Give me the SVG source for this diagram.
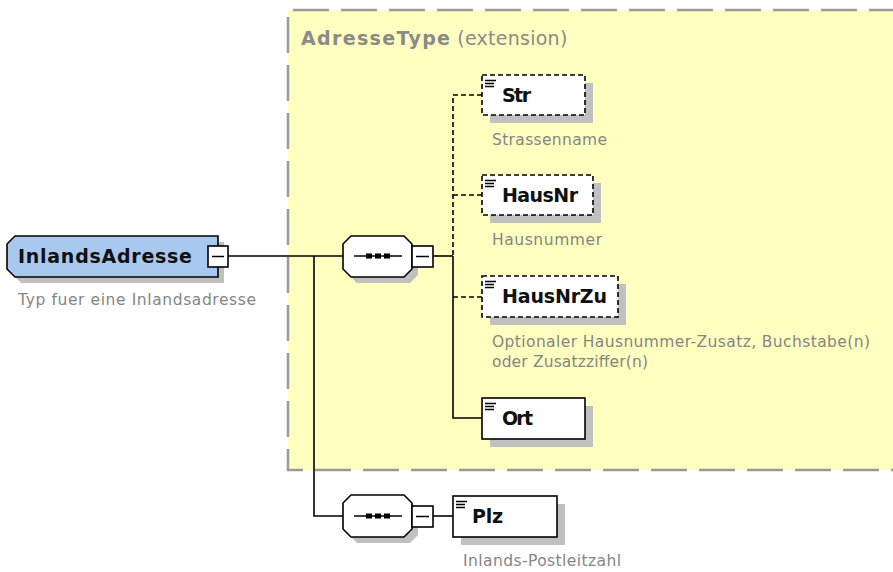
<svg xmlns="http://www.w3.org/2000/svg" width="893" height="572" viewBox="0 0 893 572">
<defs>
<style>
.shadow{fill:#c0c0c0;stroke:none}
.box{fill:#fff;stroke:#000;stroke-width:1.6}
.opt{stroke-dasharray:5 3}
.name{font-family:"DejaVu Sans",Verdana,sans-serif;font-weight:bold;font-size:19px;fill:#101010}
.desc{font-family:"DejaVu Sans",Verdana,sans-serif;font-size:15.5px;fill:#858585}
.title{font-family:"DejaVu Sans",Verdana,sans-serif;font-size:19px;fill:#8a8a8a}
.conn{fill:none;stroke:#000;stroke-width:1.6}
.dash{stroke-dasharray:5 3}
.icon{stroke:#000;stroke-width:1.3}
</style>
</defs>
<rect width="893" height="572" fill="#fff"/>
<g id="AdresseType">
<rect x="288" y="10" width="620" height="460" fill="#ffffc0"/>
<path d="M905 10 H288 V470 H905" fill="none" stroke="#9a9a9a" stroke-width="2.5" stroke-dasharray="36 12"/>
<text x="301" y="45" class="title"><tspan font-weight="bold" textLength="149">AdresseType</tspan><tspan dx="6" textLength="110">(extension)</tspan></text>
</g>
<g id="connectors">
<path class="conn" d="M228 256 H343"/>
<path class="conn" d="M314 256 V516 H343"/>
<path class="conn" d="M433 256 H453"/>
<path class="conn dash" d="M482 95 H453 V256"/>
<path class="conn dash" d="M453 195 H482"/>
<path class="conn dash" d="M453 297 H482"/>
<path class="conn" d="M453 256 V418 H482"/>
<path class="conn" d="M433 516 H453"/>
</g>
<g id="InlandsAdresse">
<path class="shadow" d="M21 242 H224 V283 H21 L13 275 V250 Z"/>
<path d="M15 236 H218 V277 H15 L7 269 V244 Z" fill="#a8c8f0" stroke="#000" stroke-width="1.6"/>
<text x="18" y="263" class="name" font-size="20" textLength="174">InlandsAdresse</text>
<rect x="208" y="246" width="20" height="21" class="box"/>
<path d="M212 256.5 H224" stroke="#000" stroke-width="1.5"/>
<text x="18" y="305" class="desc" textLength="238">Typ fuer eine Inlandsadresse</text>
</g>
<g id="sequence1">
<path class="shadow" d="M357 242 H410 L418 250 V275 L410 283 H357 L349 275 V250 Z"/>
<path d="M351 236 H404 L412 244 V269 L404 277 H351 L343 269 V244 Z" fill="#fff" stroke="#000" stroke-width="1.6"/>
<path d="M354 256 H402" stroke="#000" stroke-width="1.5"/>
<rect x="366" y="253.5" width="6" height="5" fill="#000"/>
<rect x="375" y="253.5" width="6" height="5" fill="#000"/>
<rect x="384" y="253.5" width="6" height="5" fill="#000"/>
<rect x="412" y="246" width="21" height="21" class="box"/>
<path d="M416 256.5 H429" stroke="#000" stroke-width="1.5"/>
</g>
<g id="Str">
<rect x="490" y="83" width="103" height="40" class="shadow"/>
<rect x="482" y="75" width="103" height="40" class="box opt"/>
<path class="icon" d="M485 80.5 H496 M485 83.5 H494 M485 86.5 H494"/>
<text x="502" y="102" class="name" textLength="29">Str</text>
<text x="492" y="145" class="desc" textLength="115">Strassenname</text>
</g>
<g id="HausNr">
<rect x="490" y="183" width="111" height="40" class="shadow"/>
<rect x="482" y="175" width="111" height="40" class="box opt"/>
<path class="icon" d="M485 180.5 H496 M485 183.5 H494 M485 186.5 H494"/>
<text x="502" y="202" class="name" textLength="76">HausNr</text>
<text x="492" y="245" class="desc" textLength="110">Hausnummer</text>
</g>
<g id="HausNrZu">
<rect x="490" y="284" width="136" height="41" class="shadow"/>
<rect x="482" y="276" width="136" height="41" class="box opt"/>
<path class="icon" d="M485 281.5 H496 M485 284.5 H494 M485 287.5 H494"/>
<text x="502" y="303" class="name" textLength="105">HausNrZu</text>
<text x="492" y="347" class="desc" textLength="378">Optionaler Hausnummer-Zusatz, Buchstabe(n)</text>
<text x="492" y="367" class="desc" textLength="156">oder Zusatzziffer(n)</text>
</g>
<g id="Ort">
<rect x="490" y="406" width="103" height="41" class="shadow"/>
<rect x="482" y="398" width="103" height="41" class="box"/>
<path class="icon" d="M485 403.5 H496 M485 406.5 H494 M485 409.5 H494"/>
<text x="502" y="425" class="name" textLength="31">Ort</text>
</g>
<g id="sequence2">
<path class="shadow" d="M357 501 H410 L418 509 V535 L410 543 H357 L349 535 V509 Z"/>
<path d="M351 495 H404 L412 503 V529 L404 537 H351 L343 529 V503 Z" fill="#fff" stroke="#000" stroke-width="1.6"/>
<path d="M354 516 H402" stroke="#000" stroke-width="1.5"/>
<rect x="366" y="513.5" width="6" height="5" fill="#000"/>
<rect x="375" y="513.5" width="6" height="5" fill="#000"/>
<rect x="384" y="513.5" width="6" height="5" fill="#000"/>
<rect x="412" y="506" width="21" height="21" class="box"/>
<path d="M416 516.5 H429" stroke="#000" stroke-width="1.5"/>
</g>
<g id="Plz">
<rect x="461" y="504" width="104" height="41" class="shadow"/>
<rect x="453" y="496" width="104" height="41" class="box"/>
<path class="icon" d="M456 501.5 H467 M456 504.5 H465 M456 507.5 H465"/>
<text x="472" y="523" class="name" textLength="31">Plz</text>
<text x="463" y="566" class="desc" textLength="158">Inlands-Postleitzahl</text>
</g>
</svg>
